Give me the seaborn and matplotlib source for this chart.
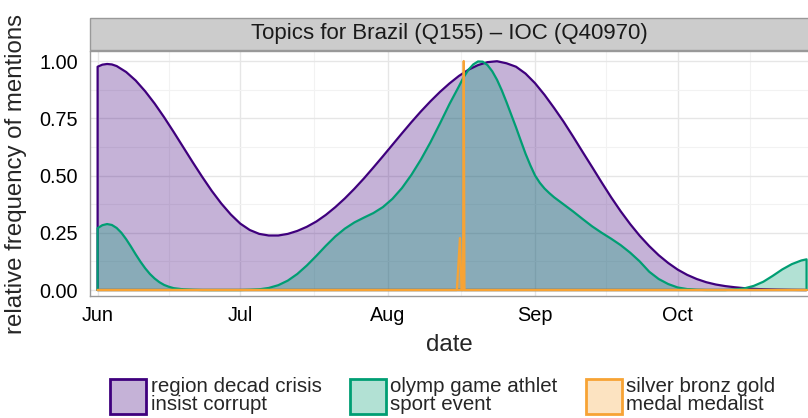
import pandas as pd
import seaborn as sns
import matplotlib.pyplot as plt
import matplotlib.dates as mdates
from matplotlib.patches import Patch, Rectangle
from matplotlib.colors import to_rgba

sns.set_theme(style="white")
plt.rcParams["font.family"] = ["Liberation Sans", "DejaVu Sans"]

start = pd.Timestamp("2016-06-01")

topics = ["region decad crisis\ninsist corrupt",
          "olymp game athlet\nsport event",
          "silver bronz gold\nmedal medalist"]
colors = ["#3f007d", "#009e73", "#f7a334"]

# days after Jun 1 and relative frequency
crisis_days = [0, 1, 2, 3, 4, 6, 8, 10, 12, 14, 16, 18, 20, 22, 24, 26, 28, 30, 32, 34, 36,
               38, 40, 42, 44, 46, 48, 50, 52, 54, 56, 58, 60, 62, 64, 66, 68, 70, 72, 74, 76,
               78, 80, 82, 84, 86, 88, 90, 92, 94, 96, 98, 100, 102, 104, 106, 108, 110, 112,
               114, 116, 118, 120, 122, 124, 126, 128, 130, 132, 134, 136, 138, 140, 143, 146,
               149.1]
crisis_freq = [0.975, 0.984, 0.987, 0.985, 0.978, 0.952, 0.915, 0.868, 0.814, 0.754, 0.69,
               0.624, 0.558, 0.494, 0.433, 0.378, 0.33, 0.29, 0.262, 0.245, 0.238, 0.238,
               0.245, 0.258, 0.276, 0.299, 0.328, 0.362, 0.4, 0.442, 0.487, 0.535, 0.584,
               0.634, 0.684, 0.733, 0.78, 0.824, 0.865, 0.902, 0.935, 0.962, 0.982, 0.995,
               0.999, 0.99, 0.975, 0.945, 0.903, 0.852, 0.795, 0.735, 0.67, 0.603, 0.537, 0.47,
               0.405, 0.344, 0.288, 0.237, 0.192, 0.152, 0.118, 0.089, 0.066, 0.048, 0.034,
               0.024, 0.017, 0.012, 0.008, 0.005, 0.003, 0.0015, 0.0005, 0.0]

olymp_days = [0, 1, 2, 3, 4, 5, 6, 7, 8, 9, 10, 11, 12, 13, 14, 15, 16, 18, 20, 22, 30, 32,
              34, 36, 38, 40, 42, 44, 46, 48, 50, 52, 54, 56, 58, 60, 62, 64, 66, 68, 70, 72,
              74, 76, 77, 78, 79, 80, 81, 82, 83, 84, 85, 86, 87, 88, 89, 90, 91, 92, 93, 94,
              95, 96, 98, 100, 102, 104, 106, 108, 110, 112, 114, 116, 118, 120, 122, 124,
              126, 128, 132, 134, 136, 138, 140, 142, 144, 146, 148, 149.1]
olymp_freq = [0.27, 0.283, 0.288, 0.284, 0.271, 0.25, 0.222, 0.19, 0.156, 0.124, 0.095, 0.07,
              0.05, 0.034, 0.022, 0.014, 0.008, 0.003, 0.001, 0.0, 0.0, 0.001, 0.003, 0.009,
              0.021, 0.041, 0.07, 0.107, 0.149, 0.193, 0.234, 0.268, 0.295, 0.316, 0.336,
              0.362, 0.398, 0.445, 0.503, 0.57, 0.645, 0.727, 0.812, 0.89, 0.93, 0.962, 0.985,
              0.998, 0.997, 0.982, 0.955, 0.918, 0.872, 0.82, 0.765, 0.71, 0.652, 0.595, 0.545,
              0.5, 0.468, 0.443, 0.423, 0.405, 0.374, 0.343, 0.31, 0.278, 0.25, 0.224, 0.196,
              0.163, 0.125, 0.08, 0.048, 0.026, 0.011, 0.004, 0.001, 0.0, 0.0, 0.002, 0.007,
              0.018, 0.036, 0.062, 0.09, 0.113, 0.129, 0.134]

medal_days = [0, 75.55, 76.2, 76.55, 76.85, 77.0, 77.15, 149.1]
medal_freq = [0.0, 0.0, 0.227, 0.0, 0.0, 1.0, 0.0, 0.0]

series = [(crisis_days, crisis_freq), (olymp_days, olymp_freq), (medal_days, medal_freq)]

fig = plt.figure(figsize=(8.08, 4.18), dpi=100)
ax = fig.add_axes([90 / 808, 1 - 296 / 418, 718 / 808, 245 / 418])

for (days, freq), col in zip(series, colors):
    d = pd.to_timedelta([days[0]] + list(days) + [days[-1], days[0]], unit="D") + start
    y = [0.0] + list(freq) + [0.0, 0.0]
    df = pd.DataFrame({"date": d, "freq": y})
    ax.fill_between(df["date"], df["freq"], 0, color=col, alpha=0.3, lw=0)
    sns.lineplot(data=df, x="date", y="freq", sort=False, estimator=None,
                 color=col, lw=1.6, solid_joinstyle="round", ax=ax)

ax.set_xlim(start - pd.Timedelta(days=1.6), start + pd.Timedelta(days=149.4))
ax.set_ylim(-0.0262, 1.0437)

months = pd.date_range("2016-06-01", "2016-10-01", freq="MS")
ax.set_xticks(months)
ax.xaxis.set_major_formatter(mdates.DateFormatter("%b"))
mids = [months[i] + (months[i + 1] - months[i]) / 2 for i in range(len(months) - 1)]
mids.append(months[-1] + pd.Timedelta(days=15.25))
ax.set_xticks(mids, minor=True)
ax.set_yticks([0, 0.25, 0.5, 0.75, 1.0])
ax.set_yticklabels(["0.00", "0.25", "0.50", "0.75", "1.00"])
ax.set_yticks([0.125, 0.375, 0.625, 0.875], minor=True)

ax.grid(True, which="major", color="#e6e6e6", lw=1.0)
ax.grid(True, which="minor", color="#f2f2f2", lw=0.8)
ax.set_axisbelow(True)
ax.tick_params(which="major", length=4.5, width=1, color="#333333", labelsize=14.3,
               labelcolor="black", pad=3)
ax.tick_params(axis="y", which="major", pad=4)
ax.tick_params(which="minor", length=0)
for s in ax.spines.values():
    s.set_color("#999999")
    s.set_linewidth(1)
ax.spines["right"].set_visible(False)

ax.set_xlabel("date", fontsize=17.3, labelpad=6)
ax.set_ylabel("relative frequency of mentions", fontsize=17.3, labelpad=9)

# facet strip
fig.patches.append(Rectangle((90 / 808, 1 - 50 / 418), 720 / 808, 32 / 418,
                             transform=fig.transFigure, facecolor="#cccccc",
                             edgecolor="#999999", lw=1))
fig.text(449 / 808, 1 - 34 / 418, "Topics for Brazil (Q155) \u2013 IOC (Q40970)",
         ha="center", va="center", fontsize=16, color="#1a1a1a")

handles = [Patch(facecolor=to_rgba(c, 0.3), edgecolor=c, lw=2) for c in colors]
leg = fig.legend(handles, topics, loc="center", bbox_to_anchor=(443 / 808, 1 - 395.5 / 418),
                 ncol=3, frameon=False, handlelength=1.75, handleheight=2.2,
                 handletextpad=0.2, columnspacing=1.4, borderpad=0, fontsize=14.8)
for t in leg.get_texts():
    t.set_linespacing(0.95)

fig.savefig("out.png", dpi=100)
